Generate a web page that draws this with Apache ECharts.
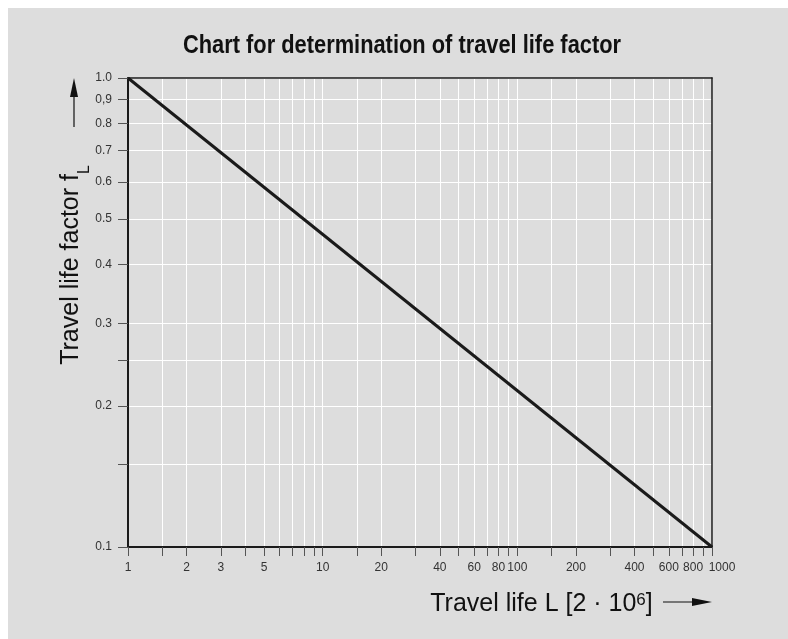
<!DOCTYPE html>
<html>
<head>
<meta charset="utf-8">
<script src="https://cdn.jsdelivr.net/npm/echarts@6/dist/echarts.min.js"></script>
<style>
    html, body { margin: 0; background: #fff; }
    #chart { position: absolute; left: 8px; top: 8px; width: 780px; height: 631px; background: #dddddd; }
</style>
</head>
<body>
<div id="chart"></div>
<script>
// data (log-log, travel life vs factor)
const lifeValues = [1, 1000]
const factorValues = [1.0, 0.1]

// ticks / labels
const xTickValues = [1, 1.5, 2, 3, 4, 5, 6, 7, 8, 9, 10, 15, 20, 30, 40, 50, 60, 70, 80, 90,
    100, 150, 200, 300, 400, 500, 600, 700, 800, 900, 1000]
const xLabelValues = [1, 2, 3, 5, 10, 20, 40, 60, 80, 100, 200, 400, 600, 800, 1000]
const yTickValues = [0.1, 0.15, 0.2, 0.25, 0.3, 0.4, 0.5, 0.6, 0.7, 0.8, 0.9, 1.0]
const yLabelValues = [0.1, 0.2, 0.3, 0.4, 0.5, 0.6, 0.7, 0.8, 0.9, 1.0]

const txtFont = '"Liberation Sans", Arial, sans-serif'
const dark = '#1a1a1a'

function yLabel(v) {
    if (Math.abs(v - 1) < 1e-9) return '1.0'
    if (Math.abs(v - 0.9) < 1e-9) return '0,9'
    return v.toFixed(1)
}

function xLabel(v) {
    const n = Math.round(v)
    // last label is pushed right in the original so it clears "800"
    return n === 1000 ? '{r|1000}' : String(n)
}

const myChart = echarts.init(document.getElementById('chart'), null, {renderer: 'canvas'})

const option = {
    animation: false,
    backgroundColor: 'transparent',
    grid: {left: 120, top: 70, right: 76, bottom: 92},
    xAxis: [{
        type: 'log',
        logBase: 10,
        min: 1,
        // a hair over 1000 so the 1000 tick/label survives log rounding
        max: 1000.0001,
        position: 'bottom',
        name: '{m|Travel life L [2 · 10}{sup|6}{m|]}',
        nameLocation: 'middle',
        nameGap: 45,
        nameMoveOverlap: false,
        nameTextStyle: {
            fontFamily: txtFont,
            color: '#111',
            padding: [0, 0, 0, 243],
            rich: {
                m: {fontFamily: txtFont, fontSize: 25, lineHeight: 25, verticalAlign: 'bottom', color: '#111'},
                sup: {fontFamily: txtFont, fontSize: 17, lineHeight: 25, verticalAlign: 'top', color: '#111'}
            }
        },
        axisLine: {show: true, lineStyle: {color: dark, width: 2}},
        axisTick: {show: true, customValues: xTickValues, length: 9, lineStyle: {color: '#555', width: 1}},
        axisLabel: {
            customValues: xLabelValues,
            margin: 15,
            fontSize: 12,
            fontFamily: txtFont,
            color: '#333',
            hideOverlap: false,
            showMinLabel: true,
            showMaxLabel: true,
            formatter: xLabel,
            rich: {
                r: {fontSize: 12, fontFamily: txtFont, color: '#333', padding: [0, 0, 0, 20]}
            }
        },
        splitLine: {show: true, lineStyle: {color: '#ffffff', width: 1}}
    }, {
        type: 'log',
        logBase: 10,
        min: 1,
        max: 1000.0001,
        position: 'top',
        axisLine: {show: true, lineStyle: {color: dark, width: 1.5}},
        axisTick: {show: false},
        axisLabel: {show: false},
        splitLine: {show: false}
    }],
    yAxis: [{
        type: 'log',
        logBase: 10,
        min: 0.1,
        max: 1,
        position: 'left',
        name: '{m|Travel life factor f}{sub|L}',
        nameLocation: 'middle',
        nameRotate: 90,
        nameGap: 35,
        nameMoveOverlap: false,
        nameTextStyle: {
            fontFamily: txtFont,
            color: '#111',
            padding: [0, 0, 0, 95],
            rich: {
                m: {fontFamily: txtFont, fontSize: 25, lineHeight: 25, verticalAlign: 'top', color: '#111'},
                sub: {fontFamily: txtFont, fontSize: 16, lineHeight: 34, verticalAlign: 'bottom', color: '#111'}
            }
        },
        axisLine: {show: true, lineStyle: {color: dark, width: 2}},
        axisTick: {show: true, customValues: yTickValues, length: 10, lineStyle: {color: '#555', width: 1}},
        axisLabel: {
            customValues: yLabelValues,
            margin: 16,
            fontSize: 12,
            fontFamily: txtFont,
            color: '#333',
            hideOverlap: false,
            showMinLabel: true,
            showMaxLabel: true,
            formatter: yLabel
        },
        splitLine: {show: true, lineStyle: {color: '#ffffff', width: 1}}
    }, {
        type: 'log',
        logBase: 10,
        min: 0.1,
        max: 1,
        position: 'right',
        axisLine: {show: true, lineStyle: {color: dark, width: 1.5}},
        axisTick: {show: false},
        axisLabel: {show: false},
        splitLine: {show: false}
    }],
    graphic: [
        // title, squeezed to look like the condensed face of the original
        {
            type: 'text',
            x: 394,
            y: 25,
            scaleX: 0.84,
            style: {
                text: 'Chart for determination of travel life factor',
                fill: '#111',
                font: 'bold 26px "Liberation Sans", Arial, sans-serif',
                align: 'center',
                verticalAlign: 'top'
            }
        },
        // arrow beside the y axis name
        {type: 'line', shape: {x1: 66, y1: 119, x2: 66, y2: 86}, style: {stroke: '#111', lineWidth: 1.2}},
        {type: 'polygon', shape: {points: [[66, 70], [62, 89], [70, 89]]}, style: {fill: '#111'}},
        // arrow after the x axis name
        {type: 'line', shape: {x1: 655, y1: 594, x2: 688, y2: 594}, style: {stroke: '#111', lineWidth: 1.2}},
        {type: 'polygon', shape: {points: [[704, 594], [684, 590], [684, 598]]}, style: {fill: '#111'}}
    ],
    series: [{
        type: 'line',
        xAxisIndex: 0,
        yAxisIndex: 0,
        symbol: 'none',
        data: lifeValues.map((x, i) => [x, factorValues[i]]),
        lineStyle: {color: dark, width: 3},
        z: 3
    }]
}
myChart.setOption(option)
</script>
</body>
</html>
